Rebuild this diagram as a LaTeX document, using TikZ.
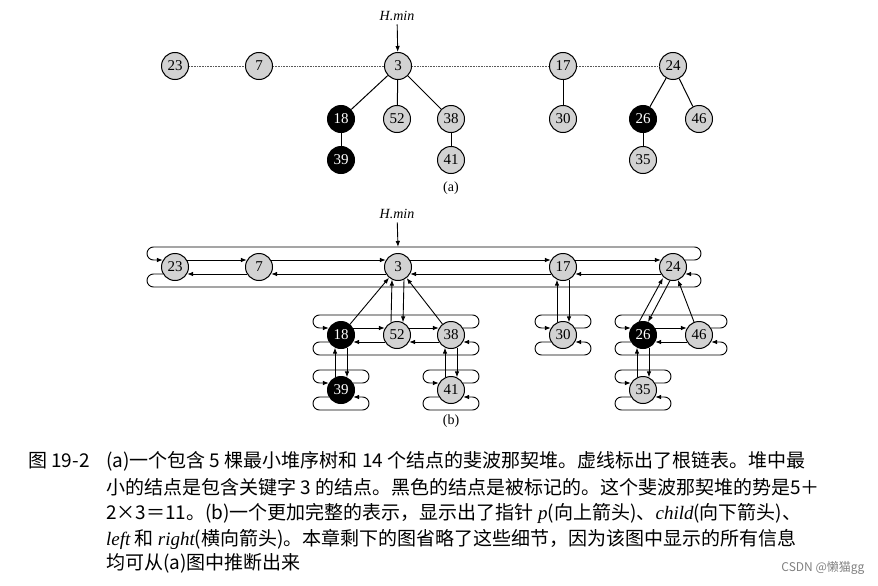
\documentclass[tikz,border=0pt]{standalone}
\usepackage{fontspec}
\setmainfont{Liberation Serif}
\newfontfamily\cjk{Noto Sans CJK SC}
\usetikzlibrary{calc,arrows.meta}
\tikzset{
 hn/.style={circle,draw,line width=1pt,fill=gray!35,minimum size=27pt,inner sep=0pt,font=\fontsize{15}{15}\selectfont},
 mk/.style={hn,fill=black,text=white},
 ar/.style={-{Latex[length=6pt,width=4.5pt]},line width=0.9pt},
 ln/.style={line width=1pt},
 root/.style={densely dotted,line width=0.6pt,gray!70!black},
 captxt/.style={anchor=west,font=\cjk\fontsize{19}{19}\selectfont,inner sep=0pt},
}
\newcommand{\lt}[1]{{\rmfamily\itshape #1}}
\newcommand{\mylink}[2]{%
 \draw[ar] ($(#1)+(12.1,-7)$) -- ($(#2)+(-12.1,-7)$);
 \draw[ar] ($(#2)+(-12.1,7)$) -- ($(#1)+(12.1,7)$);}
\newcommand{\mywrap}[2]{%
 \draw[ar,rounded corners=6.5pt] ($(#2)+(12.1,-7)$) -- ($(#2)+(28,-7)$) -- ($(#2)+(28,-20)$) -- ($(#1)+(-28,-20)$) -- ($(#1)+(-28,-7)$) -- ($(#1)+(-12.1,-7)$);
 \draw[ar,rounded corners=6.5pt] ($(#1)+(-12.1,7)$) -- ($(#1)+(-28,7)$) -- ($(#1)+(-28,20)$) -- ($(#2)+(28,20)$) -- ($(#2)+(28,7)$) -- ($(#2)+(12.1,7)$);}
\newcommand{\mypc}[2]{%
 \draw[ar] ($(#1)+(-6,-12.6)$) -- ($(#2)+(-6,12.6)$);
 \draw[ar] ($(#2)+(6,12.6)$) -- ($(#1)+(6,-12.6)$);}
\begin{document}
\begin{tikzpicture}[x=1pt,y=-1pt]
\useasboundingbox (0,0) rectangle (878,586);
% ---------- (a)
\node[hn] (a23) at (175,66) {23};
\node[hn] (a7) at (259,66) {7};
\node[hn] (a3) at (398,66) {3};
\node[hn] (a17) at (563,66) {17};
\node[hn] (a24) at (673,66) {24};
\node[mk] (a18) at (341,119) {18};
\node[hn] (a52) at (397,119) {52};
\node[hn] (a38) at (451,119) {38};
\node[hn] (a30) at (563,119) {30};
\node[mk] (a26) at (643,119) {26};
\node[hn] (a46) at (699,119) {46};
\node[mk] (a39) at (341,160) {39};
\node[hn] (a41) at (451,160) {41};
\node[hn] (a35) at (643,160) {35};
\draw[root] (a23)--(a7); \draw[root] (a7)--(a3); \draw[root] (a3)--(a17); \draw[root] (a17)--(a24);
\draw[ln] (a3)--(a18); \draw[ln] (a3)--(a52); \draw[ln] (a3)--(a38);
\draw[ln] (a18)--(a39); \draw[ln] (a38)--(a41); \draw[ln] (a17)--(a30);
\draw[ln] (a24)--(a26); \draw[ln] (a24)--(a46); \draw[ln] (a26)--(a35);
\node[font=\itshape\fontsize{14}{14}\selectfont] (ah) at (397,16) {H.min};
\draw[ar] (ah) -- (a3);
\node[font=\fontsize{14}{14}\selectfont] (alab) at (451,188) {(a)};
% ---------- (b)
\node[hn] (b23) at (175,267) {23};
\node[hn] (b7) at (259,267) {7};
\node[hn] (b3) at (398,267) {3};
\node[hn] (b17) at (563,267) {17};
\node[hn] (b24) at (673,267) {24};
\node[mk] (b18) at (341,335) {18};
\node[hn] (b52) at (397,335) {52};
\node[hn] (b38) at (451,335) {38};
\node[hn] (b30) at (563,335) {30};
\node[mk] (b26) at (643,335) {26};
\node[hn] (b46) at (699,335) {46};
\node[mk] (b39) at (341,390) {39};
\node[hn] (b41) at (451,390) {41};
\node[hn] (b35) at (643,390) {35};
\node[font=\itshape\fontsize{14}{14}\selectfont] (bh) at (397,214) {H.min};
\draw[ar] (bh) -- ($(b3)+(0,-20)$);
\mylink{b23}{b7}\mylink{b7}{b3}\mylink{b3}{b17}\mylink{b17}{b24}\mywrap{b23}{b24}
\mylink{b18}{b52}\mylink{b52}{b38}\mywrap{b18}{b38}
\mywrap{b39}{b39}\mywrap{b41}{b41}\mywrap{b30}{b30}
\mylink{b26}{b46}\mywrap{b26}{b46}\mywrap{b35}{b35}
\draw[ar] (b18) -- (b3);
\mypc{b52}{b3}
\draw[ar] (b38) -- (b3);
\mypc{b39}{b18}\mypc{b41}{b38}\mypc{b30}{b17}\mypc{b35}{b26}
\draw[ar] ($(b26)+(-4,-13)$) -- ($(b24)+(-10,11)$);
\draw[ar] ($(b24)+(-3,13.5)$) -- ($(b26)+(5,-13)$);
\draw[ar] (b46) -- (b24);
\node[font=\fontsize{14}{14}\selectfont] (blab) at (451,421) {(b)};
% ---------- caption
\node[captxt] (c0) at (28,461) {图 19-2};
\node[captxt] (c1) at (106,461) {(a)一个包含 5 棵最小堆序树和 14 个结点的斐波那契堆。虚线标出了根链表。堆中最};
\node[captxt] (c2) at (106,487) {小的结点是包含关键字 3 的结点。黑色的结点是被标记的。这个斐波那契堆的势是5＋};
\node[captxt] (c3) at (106,513) {2×3＝11。(b)一个更加完整的表示，显示出了指针 \lt{p}(向上箭头)、\lt{child}(向下箭头)、};
\node[captxt] (c4) at (106,539) {\lt{left} 和 \lt{right}(横向箭头)。本章剩下的图省略了这些细节，因为该图中显示的所有信息};
\node[captxt] (c5) at (106,563) {均可从(a)图中推断出来};
\node[anchor=east,font=\cjk\fontsize{12}{12}\selectfont,text=gray] (wm) at (868,568) {CSDN @懒猫gg};
\end{tikzpicture}
\end{document}
